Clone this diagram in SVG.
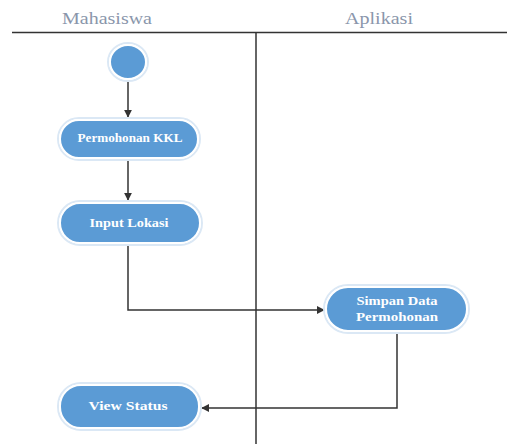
<svg xmlns="http://www.w3.org/2000/svg" width="507" height="444" viewBox="0 0 507 444">
<style>
.hdr{font-family:"Liberation Serif","Times New Roman",serif;font-size:17px;fill:#8a96ab;text-anchor:middle}
.lbl{font-family:"Liberation Serif","Times New Roman",serif;font-size:13px;fill:#ffffff;text-anchor:middle;font-weight:bold}
.node{fill:#5b9bd5;stroke:#ffffff;stroke-width:2}
.halo{fill:none;stroke:#dbe8f5;stroke-width:2}
.conn{fill:none;stroke:#333333;stroke-width:1.5}
</style>
<defs>
<marker id="ah" viewBox="0 0 10 10" refX="9" refY="5" markerWidth="8" markerHeight="8" markerUnits="userSpaceOnUse" orient="auto">
<path d="M0,0 L10,5 L0,10 z" fill="#333333"/>
</marker>
</defs>
<rect width="507" height="444" fill="#ffffff"/>
<g id="lanes">
<text class="hdr" x="107" y="24" textLength="90" lengthAdjust="spacingAndGlyphs">Mahasiswa</text>
<text class="hdr" x="379" y="24" textLength="68" lengthAdjust="spacingAndGlyphs">Aplikasi</text>
<line x1="12" y1="32.5" x2="507" y2="32.5" stroke="#333333" stroke-width="1.5"/>
<line x1="256" y1="32" x2="256" y2="444" stroke="#333333" stroke-width="1.5"/>
</g>
<g id="connectors">
<line class="conn" x1="128" y1="80" x2="128" y2="117" marker-end="url(#ah)"/>
<line class="conn" x1="128" y1="159" x2="128" y2="200" marker-end="url(#ah)"/>
<polyline class="conn" points="128,243 128,310 324,310" marker-end="url(#ah)"/>
<polyline class="conn" points="397,331 397,408 202,408" marker-end="url(#ah)"/>
</g>
<g id="start">
<ellipse class="halo" cx="128" cy="62" rx="20" ry="19"/>
<ellipse class="node" cx="128" cy="62" rx="18" ry="17"/>
</g>
<g id="n1">
<rect class="halo" x="58" y="118" width="142" height="42" rx="21"/>
<rect class="node" x="60" y="120" width="138" height="38" rx="19"/>
<text class="lbl" x="130" y="142" textLength="105" lengthAdjust="spacingAndGlyphs">Permohonan KKL</text>
</g>
<g id="n2">
<rect class="halo" x="58" y="201" width="144" height="44" rx="22"/>
<rect class="node" x="60" y="203" width="140" height="40" rx="20"/>
<text class="lbl" x="129" y="227" textLength="79" lengthAdjust="spacingAndGlyphs">Input Lokasi</text>
</g>
<g id="n3">
<rect class="halo" x="324" y="285" width="145" height="48" rx="24"/>
<rect class="node" x="326" y="287" width="141" height="44" rx="22"/>
<text class="lbl" x="397" y="305" textLength="81" lengthAdjust="spacingAndGlyphs">Simpan Data</text>
<text class="lbl" x="397" y="321" textLength="82" lengthAdjust="spacingAndGlyphs">Permohonan</text>
</g>
<g id="n4">
<rect class="halo" x="58" y="383" width="143" height="47" rx="23"/>
<rect class="node" x="60" y="385" width="139" height="43" rx="21"/>
<text class="lbl" x="128" y="410" textLength="79" lengthAdjust="spacingAndGlyphs">View Status</text>
</g>
</svg>
